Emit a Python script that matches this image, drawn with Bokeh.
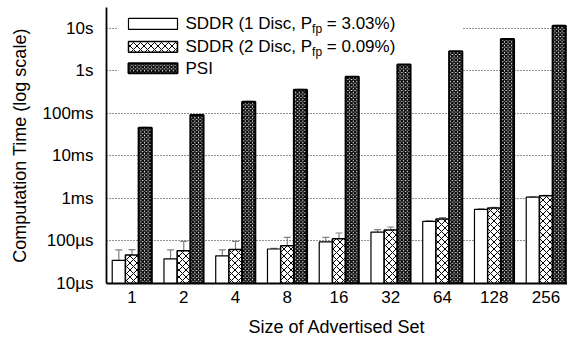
import numpy as np
from bokeh.plotting import figure
from bokeh.models import (ColumnDataSource, FixedTicker, Whisker, TeeHead,
                          Label, Range1d)
from bokeh.embed import file_html
from bokeh.resources import INLINE

# ---------------- data (times in microseconds) ----------------
sizes = ["1", "2", "4", "8", "16", "32", "64", "128", "256"]

sddr1    = [35, 38, 44.6, 64.7, 95, 162, 288, 550, 1070]
sddr1_lo = [30.5, 30.5, 29, 62, 88, 154, 280, 535, 1050]
sddr1_hi = [62, 62, 62, 67, 121, 184, 296, 565, 1090]

sddr2    = [47, 59, 62.6, 77.6, 113, 181, 327, 593, 1150]
sddr2_lo = [30.5, 28, 29, 62, 86, 155, 288, 570, 1120]
sddr2_hi = [62.5, 98, 98, 121, 154, 213, 356, 620, 1180]

psi    = [46000, 91000, 186000, 360000, 720000, 1400000, 2860000, 5600000, 11400000]
psi_lo = [45000, 89000, 182000, 352000, 705000, 1370000, 2800000, 5480000, 11150000]
psi_hi = [47000, 93000, 190000, 368000, 735000, 1430000, 2920000, 5720000, 11650000]

y_ticks = [10, 100, 1000, 10000, 100000, 1000000, 10000000]
y_tick_labels = ["10µs", "100µs", "1ms", "10ms", "100ms", "1s", "10s"]

legend_labels = [("SDDR (1 Disc, P", "fp", "= 3.03%)"),
                 ("SDDR (2 Disc, P", "fp", "= 0.09%)"),
                 ("PSI", "", "")]
x_title = "Size of Advertised Set"
y_title = "Computation Time (log scale)"

# ---------------- layout / style ----------------
FONT = "Liberation Sans"
FS = "17px"
FS_LABEL = "18px"
W_FIG, H_FIG = 567, 339
FRAME_L, FRAME_T = 106, 7          # canvas px
FRAME_W, FRAME_H = 461, 277
X0 = -0.493
X1 = X0 + FRAME_W / 51.75
Y0 = 10
Y1 = 10 ** (1 + FRAME_H / 42.7)
BW = 0.255

p = figure(width=W_FIG, height=H_FIG, x_range=Range1d(X0, X1),
           y_range=Range1d(Y0, Y1), y_axis_type="log",
           output_backend="svg", toolbar_location=None,
           min_border_left=FRAME_L, min_border_right=W_FIG - FRAME_L - FRAME_W,
           min_border_top=FRAME_T,
           min_border_bottom=H_FIG - FRAME_T - FRAME_H)
p.outline_line_color = None
p.background_fill_color = "white"
p.border_fill_color = "white"
p.xgrid.visible = False
p.ygrid.grid_line_color = "#222222"
p.ygrid.grid_line_dash = "1 2"
p.ygrid.grid_line_width = 1


def dx(px):
    return X0 + (px - FRAME_L) / FRAME_W * (X1 - X0)


def dy(py):
    l0, l1 = np.log10(Y0), np.log10(Y1)
    return 10 ** (l1 - (py - FRAME_T) / FRAME_H * (l1 - l0))


# legend white background (covers grid, below bars)
p.quad(left=[dx(118)], right=[dx(462)], top=[Y1 * 2], bottom=[dy(80)],
       fill_color="white", line_color=None)

xi = np.arange(len(sizes))
src = ColumnDataSource(dict(
    x1=xi - BW, x2=xi, x3=xi + BW,
    s1=sddr1, s1lo=sddr1_lo, s1hi=sddr1_hi,
    s2=sddr2, s2lo=sddr2_lo, s2hi=sddr2_hi,
    ps=psi, pslo=psi_lo, pshi=psi_hi))

style1 = dict(fill_color="white", line_color="black", line_width=1.2)
style2 = dict(fill_color="white", line_color="black", line_width=1.5,
              hatch_pattern="diagonal_cross", hatch_color="black",
              hatch_scale=7, hatch_weight=1)
style3 = dict(fill_color="white", line_color="black", line_width=2,
              hatch_pattern="diagonal_cross", hatch_color="black",
              hatch_scale=3.6, hatch_weight=1.5)

p.vbar(x="x1", top="s1", bottom=Y0, width=BW, source=src, **style1)
p.vbar(x="x2", top="s2", bottom=Y0, width=BW, source=src, **style2)
p.vbar(x="x3", top="ps", bottom=Y0, width=BW, source=src, **style3)

for base, lo, hi in [("x1", "s1lo", "s1hi"), ("x2", "s2lo", "s2hi"),
                     ("x3", "pslo", "pshi")]:
    wk = Whisker(source=src, base=base, lower=lo, upper=hi,
                 line_color="#808080", line_width=1.2,
                 upper_head=TeeHead(size=7, line_color="#808080", line_width=1.2),
                 lower_head=TeeHead(size=7, line_color="#808080", line_width=1.2))
    p.add_layout(wk)

# ---------------- legend (manual, for the subscript) ----------------
box_rows = [(18, 29), (41, 52), (63, 73)]
styles = [style1, style2, style3]
for (t, b), st in zip(box_rows, styles):
    p.quad(left=[dx(128)], right=[dx(177)], top=[dy(t)], bottom=[dy(b)], **st)

for (t, b), (a, sub, c) in zip(box_rows, legend_labels):
    yc = (t + b) / 2
    p.add_layout(Label(x=dx(185), y=dy(yc), text=a, text_font=FONT,
                       text_font_size=FS, text_baseline="middle",
                       text_color="black"))
    if sub:
        p.add_layout(Label(x=dx(185 + 126.6), y=dy(yc + 5), text=sub,
                           text_font=FONT, text_font_size="12px",
                           text_baseline="middle", text_color="black"))
        p.add_layout(Label(x=dx(185 + 141.3), y=dy(yc), text=c,
                           text_font=FONT, text_font_size=FS,
                           text_baseline="middle", text_color="black"))

# ---------------- axes ----------------
p.xaxis.ticker = FixedTicker(ticks=list(xi))
p.xaxis.major_label_overrides = {int(i): s for i, s in zip(xi, sizes)}
p.yaxis.ticker = FixedTicker(ticks=y_ticks)
p.yaxis.major_label_overrides = {t: s for t, s in zip(y_ticks, y_tick_labels)}

for ax in (p.xaxis[0], p.yaxis[0]):
    ax.axis_line_color = "black"
    ax.axis_line_width = 1.8
    ax.major_tick_line_color = None
    ax.minor_tick_line_color = None
    ax.major_tick_out = 0
    ax.major_tick_in = 0
    ax.minor_tick_out = 0
    ax.minor_tick_in = 0
    ax.major_label_text_font = FONT
    ax.major_label_text_font_size = FS
    ax.major_label_text_color = "black"
    ax.axis_label_text_font = FONT
    ax.axis_label_text_font_size = FS_LABEL
    ax.axis_label_text_font_style = "normal"
    ax.axis_label_text_color = "black"

p.xaxis.axis_label = x_title
p.yaxis.axis_label = y_title
p.xaxis.major_label_standoff = 7
p.yaxis.major_label_standoff = 13
p.xaxis.axis_label_standoff = 11
p.yaxis.axis_label_standoff = 9

open("out.html", "w").write(file_html(p, INLINE))
